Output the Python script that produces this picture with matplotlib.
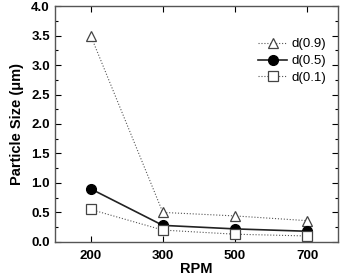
import matplotlib
matplotlib.use("Agg")
import matplotlib.pyplot as plt
from matplotlib.ticker import MultipleLocator

plt.rcParams['font.family'] = ['Liberation Sans', 'DejaVu Sans']

rpm = ["200", "300", "500", "700"]
d09 = [3.5, 0.50, 0.44, 0.36]
d05 = [0.90, 0.28, 0.22, 0.18]
d01 = [0.55, 0.20, 0.13, 0.10]

fig = plt.figure(figsize=(3.46, 2.78), dpi=100)
ax = fig.add_axes([0.160, 0.130, 0.817, 0.848])
x = list(range(len(rpm)))

ax.plot(x, d09, linestyle=':', color='#555555', linewidth=0.8, marker='^', markersize=7.5,
        markerfacecolor='white', markeredgecolor='#444444', markeredgewidth=0.9, label='d(0.9)')
ax.plot(x, d05, linestyle='-', color='#222222', linewidth=1.2, marker='o', markersize=7,
        markerfacecolor='black', markeredgecolor='black', label='d(0.5)')
ax.plot(x, d01, linestyle=':', color='#555555', linewidth=0.8, marker='s', markersize=6.5,
        markerfacecolor='white', markeredgecolor='#444444', markeredgewidth=0.9, label='d(0.1)')

ax.set_xlim(-0.49, 3.43)
ax.set_ylim(0, 4.0)
ax.set_xticks(x)
ax.set_xticklabels(rpm, fontweight='bold', fontsize=9.5)
ax.yaxis.set_minor_locator(MultipleLocator(0.25))
ax.set_yticks([i * 0.5 for i in range(9)])
ax.set_yticklabels(["%.1f" % (i * 0.5) for i in range(9)], fontweight='bold', fontsize=9.5)
ax.tick_params(which='both', direction='in', top=True, right=True)
ax.tick_params(which='major', length=4, width=0.8)
ax.tick_params(axis='y', which='major', pad=4)
ax.tick_params(axis='x', which='major', pad=6)
ax.tick_params(which='minor', length=2, width=0.8)
ax.tick_params(axis='x', which='minor', bottom=False, top=False)
for s in ax.spines.values():
    s.set_color('#555555')
    s.set_linewidth(1.0)

ax.set_xlabel('RPM', fontweight='bold', fontsize=10.5, labelpad=0)
ax.set_ylabel('Particle Size (\u03bcm)', fontweight='bold', fontsize=10.5, labelpad=5)

leg = ax.legend(loc='upper right', bbox_to_anchor=(1.0, 0.915), frameon=False, fontsize=9.5,
                handlelength=2.2, handletextpad=0.3, labelspacing=0.35)

fig.savefig('out.png', dpi=100)
